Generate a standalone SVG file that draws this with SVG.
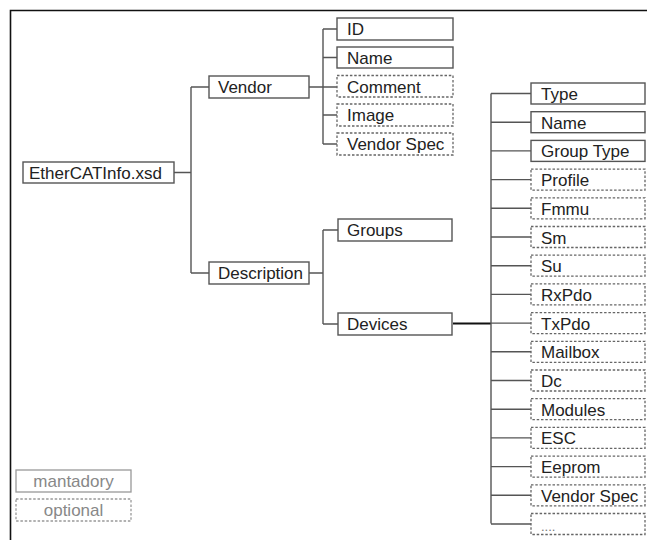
<svg xmlns="http://www.w3.org/2000/svg" width="647" height="540" viewBox="0 0 647 540">
<style>
.b{fill:#fff;stroke:#555;stroke-width:1.4}
.o{fill:#fff;stroke:#666;stroke-width:1.3;stroke-dasharray:2.5 1.8}
.t{font-family:"Liberation Sans",Arial,sans-serif;font-size:17px;fill:#222}
.lg{fill:#fff;stroke:#999;stroke-width:1.3}
.lgo{fill:#fff;stroke:#999;stroke-width:1.3;stroke-dasharray:2.5 1.8}
.lt{font-family:"Liberation Sans",Arial,sans-serif;font-size:17px;fill:#888;text-anchor:middle}
#conn path{fill:none;stroke:#555;stroke-width:1.4}
</style>
<rect width="647" height="540" fill="#fff"/>
<path d="M10.5 540V10.5H647" fill="none" stroke="#111" stroke-width="1.6"/>
<g id="conn">
<path d="M174 172.5H191M191 87V273M191 87H209M191 273H209"/>
<path d="M309 87H337M323 29V144M323 29H337M323 57.5H337M323 115H337M323 144H337"/>
<path d="M309 273H323M323 230V324M323 230H338M323 324H338"/>
<path d="M453 323.5H491" style="stroke:#111;stroke-width:2"/>
<path d="M491 93.5V523.5M491 93.5H531M491 122.2H531M491 150.9H531M491 179.6H531M491 208.3H531M491 237H531M491 265.7H531M491 294.4H531M491 323.1H531M491 351.8H531M491 380.5H531M491 409.2H531M491 437.9H531M491 466.6H531M491 495.3H531M491 524H531"/>
</g>
<g id="root"><rect class="b" x="23" y="162" width="151" height="21"/><text class="t" x="29" y="179">EtherCATInfo.xsd</text></g>
<g id="vendor"><rect class="b" x="209" y="76" width="100" height="22"/><text class="t" x="218" y="93">Vendor</text></g>
<g id="description"><rect class="b" x="209" y="262" width="100" height="22"/><text class="t" x="218" y="279">Description</text></g>
<g id="v-id"><rect class="b" x="337" y="18" width="116" height="22"/><text class="t" x="347" y="35">ID</text></g>
<g id="v-name"><rect class="b" x="337" y="47" width="116" height="21"/><text class="t" x="347" y="64">Name</text></g>
<g id="v-comment"><rect class="o" x="337" y="75.5" width="116" height="21.5"/><text class="t" x="347" y="92.5">Comment</text></g>
<g id="v-image"><rect class="o" x="337" y="104" width="116" height="22"/><text class="t" x="347" y="121">Image</text></g>
<g id="v-vendorspec"><rect class="o" x="337" y="133" width="116" height="22"/><text class="t" x="347" y="150">Vendor Spec</text></g>
<g id="groups"><rect class="b" x="338" y="219" width="114" height="22"/><text class="t" x="347" y="236">Groups</text></g>
<g id="devices"><rect class="b" x="338" y="313" width="114" height="22"/><text class="t" x="347" y="330">Devices</text></g>
<g id="d-type"><rect class="b" x="531" y="83" width="114" height="21"/><text class="t" x="541" y="100">Type</text></g>
<g id="d-name"><rect class="b" x="531" y="111.7" width="114" height="21"/><text class="t" x="541" y="128.7">Name</text></g>
<g id="d-grouptype"><rect class="b" x="531" y="140.4" width="114" height="21"/><text class="t" x="541" y="157.4">Group Type</text></g>
<g id="d-profile"><rect class="o" x="531" y="169.1" width="114" height="21"/><text class="t" x="541" y="186.1">Profile</text></g>
<g id="d-fmmu"><rect class="o" x="531" y="197.8" width="114" height="21"/><text class="t" x="541" y="214.8">Fmmu</text></g>
<g id="d-sm"><rect class="o" x="531" y="226.5" width="114" height="21"/><text class="t" x="541" y="243.5">Sm</text></g>
<g id="d-su"><rect class="o" x="531" y="255.2" width="114" height="21"/><text class="t" x="541" y="272.2">Su</text></g>
<g id="d-rxpdo"><rect class="o" x="531" y="283.9" width="114" height="21"/><text class="t" x="541" y="300.9">RxPdo</text></g>
<g id="d-txpdo"><rect class="o" x="531" y="312.6" width="114" height="21"/><text class="t" x="541" y="329.6">TxPdo</text></g>
<g id="d-mailbox"><rect class="o" x="531" y="341.3" width="114" height="21"/><text class="t" x="541" y="358.3">Mailbox</text></g>
<g id="d-dc"><rect class="o" x="531" y="370" width="114" height="21"/><text class="t" x="541" y="387">Dc</text></g>
<g id="d-modules"><rect class="o" x="531" y="398.7" width="114" height="21"/><text class="t" x="541" y="415.7">Modules</text></g>
<g id="d-esc"><rect class="o" x="531" y="427.4" width="114" height="21"/><text class="t" x="541" y="444.4">ESC</text></g>
<g id="d-eeprom"><rect class="o" x="531" y="456.1" width="114" height="21"/><text class="t" x="541" y="473.1">Eeprom</text></g>
<g id="d-vendorspec"><rect class="o" x="531" y="484.8" width="114" height="21"/><text class="t" x="541" y="501.8">Vendor Spec</text></g>
<g id="d-more"><rect class="o" x="531" y="513.5" width="114" height="21"/><text class="t" x="541" y="530.5" style="font-size:13px;fill:#777">....</text></g>
<g id="legend-mandatory"><rect class="lg" x="16" y="470" width="115" height="22"/><text class="lt" x="73.5" y="487">mantadory</text></g>
<g id="legend-optional"><rect class="lgo" x="16" y="499" width="115" height="22"/><text class="lt" x="73.5" y="516">optional</text></g>
</svg>
